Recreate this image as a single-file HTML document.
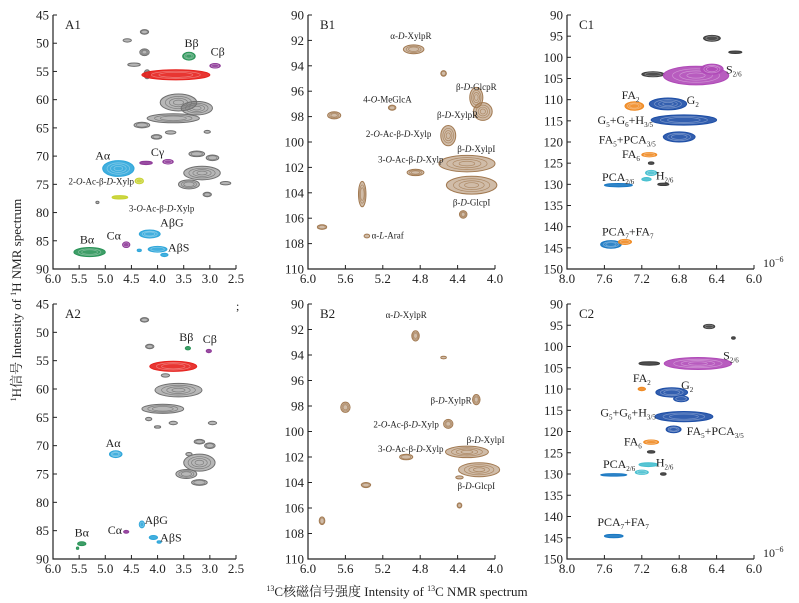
<!DOCTYPE html>
<html><head><meta charset="utf-8">
<style>
html,body{margin:0;padding:0;background:#fff;}
svg{display:block;font-family:"Liberation Serif","Noto Serif CJK SC",serif;}
</style></head>
<body>
<svg id="fig" width="799" height="603" viewBox="0 0 799 603" xmlns="http://www.w3.org/2000/svg">
<text x="397" y="596" font-size="13" text-anchor="middle" fill="#222"><tspan font-size="8" dy="-5">13</tspan><tspan dy="5">C核磁信号强度 Intensity of </tspan><tspan font-size="8" dy="-5">13</tspan><tspan dy="5">C NMR spectrum</tspan></text>
<text transform="translate(21,300) rotate(-90)" font-size="13" text-anchor="middle" fill="#222"><tspan font-size="8" dy="-5">1</tspan><tspan dy="5">H信号  Intensity of </tspan><tspan font-size="8" dy="-5">1</tspan><tspan dy="5">H NMR spectrum</tspan></text>
<text x="236" y="310" font-size="12" fill="#222">;</text>
</svg>
<script>
// ---- tick label arrays ----
const ticksAx = [6.0,5.5,5.0,4.5,4.0,3.5,3.0,2.5];
const ticksAy = [45,50,55,60,65,70,75,80,85,90];
const ticksBx = [6.0,5.6,5.2,4.8,4.4,4.0];
const ticksBy = [90,92,94,96,98,100,102,104,106,108,110];
const ticksCx = [8.0,7.6,7.2,6.8,6.4,6.0];
const ticksCy = [90,95,100,105,110,115,120,125,130,135,140,145,150];

// ---- peak data: [x ppm, y ppm, half-width x, half-width y, colour key] ----
const peaksA1 = [
 [4.25,48,0.08,0.4,'g'],[4.58,49.5,0.08,0.3,'g'],[4.25,51.6,0.09,0.6,'g'],[4.45,53.8,0.12,0.3,'g'],[4.2,55.5,0.06,0.8,'g'],
 [3.65,55.6,0.65,0.9,'r'],[3.4,52.3,0.12,0.7,'gr'],[2.9,54.0,0.1,0.4,'p'],
 [3.6,60.5,0.35,1.5,'g'],[3.7,63.3,0.5,0.8,'g'],[3.25,61.5,0.3,1.2,'g'],[4.3,64.5,0.15,0.5,'g'],
 [3.75,65.8,0.1,0.3,'g'],[4.02,66.6,0.1,0.4,'g'],[3.05,65.7,0.06,0.25,'g'],
 [4.75,72.2,0.3,1.4,'c'],[4.22,71.2,0.12,0.3,'p'],[3.8,71.0,0.1,0.4,'p'],
 [3.25,69.6,0.15,0.5,'g'],[2.95,70.3,0.12,0.5,'g'],[3.15,73.0,0.35,1.2,'g'],[3.4,75.0,0.2,0.8,'g'],[2.7,74.8,0.1,0.3,'g'],[3.05,76.8,0.08,0.4,'g'],[5.15,78.2,0.03,0.2,'g'],
 [4.35,74.4,0.08,0.5,'y'],[4.72,77.3,0.15,0.3,'y'],
 [4.15,83.8,0.2,0.7,'c'],[4.0,86.5,0.18,0.5,'c'],[3.87,87.5,0.07,0.3,'c'],[4.35,86.7,0.04,0.15,'c'],
 [4.6,85.7,0.07,0.5,'p'],[5.3,87.0,0.3,0.8,'gr']
];
const peaksA2 = [
 [4.25,47.8,0.08,0.4,'g'],[4.15,52.5,0.08,0.4,'g'],[3.42,52.8,0.05,0.3,'gr'],[3.02,53.3,0.05,0.3,'p'],
 [3.7,56.0,0.45,0.9,'r'],[3.85,57.6,0.08,0.3,'g'],
 [3.6,60.2,0.45,1.2,'g'],[3.9,63.5,0.4,0.8,'g'],[4.17,65.3,0.06,0.3,'g'],[3.7,66.0,0.08,0.3,'g'],[4.0,66.7,0.06,0.2,'g'],[2.95,66.0,0.08,0.3,'g'],
 [4.8,71.5,0.12,0.6,'c'],
 [3.2,69.3,0.1,0.4,'g'],[3.0,70.0,0.1,0.5,'g'],[3.2,73.0,0.3,1.5,'g'],[3.45,75.0,0.2,0.8,'g'],[3.2,76.5,0.15,0.5,'g'],[3.4,71.5,0.06,0.3,'g'],
 [4.3,83.9,0.05,0.6,'c'],[4.6,85.2,0.05,0.25,'p'],[4.08,86.2,0.08,0.35,'c'],[3.97,87.0,0.04,0.15,'c'],
 [5.45,87.3,0.08,0.35,'gr'],[5.53,88.1,0.02,0.2,'gr']
];
const peaksB1 = [
 [4.87,92.7,0.11,0.35,'b'],[4.55,94.6,0.03,0.22,'b'],[4.2,96.5,0.07,0.8,'b'],[4.13,97.6,0.1,0.7,'b'],[5.1,97.3,0.04,0.2,'b'],
 [5.72,97.9,0.07,0.28,'b'],[4.5,99.5,0.08,0.8,'b'],[4.3,101.7,0.3,0.65,'b'],[4.25,103.4,0.27,0.7,'b'],
 [4.85,102.4,0.09,0.25,'b'],[5.42,104.1,0.04,1.0,'b'],[4.34,105.7,0.04,0.3,'b'],[5.85,106.7,0.05,0.18,'b'],[5.37,107.4,0.03,0.15,'b']
];
const peaksB2 = [
 [4.85,92.5,0.04,0.4,'b'],[4.55,94.2,0.03,0.1,'b'],[4.2,97.5,0.04,0.4,'b'],[5.6,98.1,0.05,0.4,'b'],[4.5,99.4,0.05,0.35,'b'],
 [4.3,101.6,0.23,0.45,'b'],[4.17,103.0,0.22,0.55,'b'],[4.95,102.0,0.07,0.22,'b'],[4.38,103.6,0.04,0.12,'b'],
 [5.38,104.2,0.05,0.2,'b'],[4.38,105.8,0.025,0.2,'b'],[5.85,107.0,0.03,0.3,'b']
];
const peaksC1 = [
 [6.45,95.5,0.09,0.7,'k'],[6.2,98.8,0.07,0.25,'k'],[7.08,104.0,0.12,0.6,'k'],
 [6.62,104.3,0.35,2.2,'m'],[6.45,102.8,0.12,1.2,'m'],
 [7.28,111.5,0.1,1.0,'o'],[6.92,111.0,0.2,1.4,'bl'],[6.75,114.8,0.35,1.2,'bl'],[6.8,118.8,0.17,1.2,'bl'],
 [7.12,123.0,0.08,0.5,'o'],[7.1,125.0,0.03,0.3,'k'],[7.1,127.3,0.06,0.6,'lc'],[7.15,128.8,0.05,0.4,'lc'],[6.97,130.0,0.06,0.25,'k'],
 [7.45,130.2,0.15,0.4,'pb'],[7.53,144.2,0.11,0.9,'pb'],[7.38,143.6,0.07,0.6,'o']
];
const peaksC2 = [
 [6.48,95.3,0.06,0.5,'k'],[6.22,98.0,0.02,0.15,'k'],[7.12,104.0,0.11,0.4,'k'],
 [6.6,104.0,0.36,1.4,'m'],
 [7.2,110.0,0.04,0.4,'o'],[6.88,110.8,0.17,1.1,'bl'],[6.78,112.3,0.08,0.7,'bl'],[6.75,116.5,0.31,1.2,'bl'],[6.86,119.5,0.08,0.8,'bl'],
 [7.1,122.5,0.08,0.5,'o'],[7.1,124.8,0.04,0.3,'k'],[7.13,127.8,0.1,0.45,'lc'],[7.2,129.6,0.07,0.5,'lc'],[6.97,130.0,0.03,0.2,'k'],
 [7.5,130.2,0.14,0.3,'pb'],[7.5,144.6,0.1,0.4,'pb']
];

// ---- annotation labels: [x ppm, y ppm, text, anchor] ----
const I=s=>'<tspan font-style="italic">'+s+'</tspan>';
const labelsA1 = [[3.35,50.7,'Bβ','middle'],[2.85,52.2,'Cβ','middle'],[5.05,70.6,'Aα','middle'],[4.0,70.0,'Cγ','middle'],
 [4.45,75.0,'2-'+I('O')+'-Ac-β-'+I('D')+'-Xylp','end'],[4.55,79.8,'3-'+I('O')+'-Ac-β-'+I('D')+'-Xylp','start'],
 [3.95,82.5,'AβG','start'],[4.7,84.8,'Cα','end'],[3.8,86.9,'AβS','start'],[5.35,85.5,'Bα','middle']];
const labelsA2 = [[3.45,51.5,'Bβ','middle'],[3.0,51.9,'Cβ','middle'],[4.85,70.2,'Aα','middle'],
 [4.25,83.8,'AβG','start'],[4.68,85.6,'Cα','end'],[3.95,86.9,'AβS','start'],[5.45,86.0,'Bα','middle']];
const labelsB1 = [[4.9,91.9,'α-'+I('D')+'-XylpR','middle'],[4.2,95.9,'β-'+I('D')+'-GlcpR','middle'],[5.15,96.9,'4-'+I('O')+'-MeGlcA','middle'],
 [4.4,98.1,'β-'+I('D')+'-XylpR','middle'],[4.68,99.6,'2-'+I('O')+'-Ac-β-'+I('D')+'-Xylp','end'],[4.2,100.8,'β-'+I('D')+'-XylpI','middle'],
 [4.55,101.6,'3-'+I('O')+'-Ac-β-'+I('D')+'-Xylp','end'],[4.25,105.0,'β-'+I('D')+'-GlcpI','middle'],[5.32,107.6,'α-'+I('L')+'-Araf','start']];
const labelsB2 = [[4.95,91.1,'α-'+I('D')+'-XylpR','middle'],[4.25,97.8,'β-'+I('D')+'-XylpR','end'],[4.6,99.7,'2-'+I('O')+'-Ac-β-'+I('D')+'-Xylp','end'],
 [4.1,100.9,'β-'+I('D')+'-XylpI','middle'],[4.55,101.6,'3-'+I('O')+'-Ac-β-'+I('D')+'-Xylp','end'],[4.2,104.5,'β-'+I('D')+'-GlcpI','middle']];
const SB=s=>'<tspan font-size="7" dy="3">'+s+'</tspan>';
const labelsC1 = [[6.3,103.8,'S'+SB('2/6'),'start'],[7.32,109.8,'FA'+SB('2'),'middle'],
 [6.72,111.0,'G'+SB('2'),'start'],[7.08,115.8,'G'+SB('5')+'<tspan dy="-3">+G</tspan>'+SB('6')+'<tspan dy="-3">+H</tspan>'+SB('3/5'),'end'],
 [7.05,120.3,'FA'+SB('5')+'<tspan dy="-3">+PCA</tspan>'+SB('3/5'),'end'],[7.22,123.8,'FA'+SB('6'),'end'],
 [7.28,129.2,'PCA'+SB('2/6'),'end'],[7.05,128.8,'H'+SB('2/6'),'start'],
 [7.35,142.1,'PCA'+SB('7')+'<tspan dy="-3">+FA</tspan>'+SB('7'),'middle']];
const labelsC2 = [[6.33,103.0,'S'+SB('2/6'),'start'],[7.2,108.3,'FA'+SB('2'),'middle'],
 [6.78,110.0,'G'+SB('2'),'start'],[7.05,116.5,'G'+SB('5')+'<tspan dy="-3">+G</tspan>'+SB('6')+'<tspan dy="-3">+H</tspan>'+SB('3/5'),'end'],
 [6.72,120.8,'FA'+SB('5')+'<tspan dy="-3">+PCA</tspan>'+SB('3/5'),'start'],[7.2,123.3,'FA'+SB('6'),'end'],
 [7.27,128.6,'PCA'+SB('2/6'),'end'],[7.05,128.2,'H'+SB('2/6'),'start'],
 [7.4,142.2,'PCA'+SB('7')+'<tspan dy="-3">+FA</tspan>'+SB('7'),'middle']];

const COL = {g:'#6f6f6f',r:'#e6201c',gr:'#2a9458',p:'#8e3a98',c:'#2ea6da',y:'#c6d22e',b:'#a27a52',k:'#3c3c3c',m:'#b04ab8',o:'#f08a22',bl:'#1d4ea6',lc:'#46bfcf',pb:'#1a78c2'};
const NS='http://www.w3.org/2000/svg';
const svg=document.getElementById('fig');

function mk(tag,attrs,parent){const e=document.createElementNS(NS,tag);for(const k in attrs)e.setAttribute(k,attrs[k]);(parent||svg).appendChild(e);return e;}

function panel(id,name,xt,yt,x0,x1,y0,y1,peaks,labels,exp,lblSize){
  const g=mk('g',{});
  
  
  const xv0=xt[0],xv1=xt[xt.length-1],yv0=yt[0],yv1=yt[yt.length-1];
  const sx=v=>x0+(v-xv0)/(xv1-xv0)*(x1-x0);
  const sy=v=>y0+(v-yv0)/(yv1-yv0)*(y1-y0);
  peaks.forEach(pk=>{
    const c=COL[pk[4]];
    const light=(pk[4]==='g'||pk[4]==='b');
    const cx=sx(pk[0]),cy=sy(pk[1]);
    const rx=Math.max(1.2,Math.abs(sx(pk[0]+pk[2])-cx)),ry=Math.max(1.2,Math.abs(sy(pk[1]+pk[3])-cy));
    const pg=mk('g',{},g);
    
    
    mk('ellipse',{cx:cx,cy:cy,rx:rx,ry:ry,fill:c,'fill-opacity':light?0.5:0.9,stroke:c,'stroke-width':1},pg);
    [0.72,0.5,0.28].forEach(f=>{ if(rx*f>1.5&&ry*f>1.5) mk('ellipse',{cx:cx,cy:cy,rx:rx*f,ry:ry*f,fill:'none',stroke:light?c:'#ffffff','stroke-opacity':light?0.8:0.35,'stroke-width':0.7},pg);});
  });
  labels.forEach(l=>{
    const t=mk('text',{x:sx(+l[0]),y:sy(l[1]),'text-anchor':l[3],'font-size':(l[2].indexOf('italic')>=0)?9:lblSize,fill:'#222'},g);
    t.innerHTML=l[2];
    
    
  });
  const ax=mk('path',{d:`M${x0} ${y0}V${y1}H${x1}`,stroke:'#222','stroke-width':1.2,fill:'none'},g);
  
  
  xt.forEach(v=>{
    const x=sx(v);
    mk('line',{x1:x,x2:x,y1:y1,y2:y1-4,stroke:'#222'},g);
    const t=mk('text',{x:x,y:y1+14,'text-anchor':'middle','font-size':13,fill:'#222'},g);
    t.textContent=v.toFixed(1);
    
    
  });
  yt.forEach(v=>{
    const y=sy(v);
    mk('line',{x1:x0,x2:x0+4,y1:y,y2:y,stroke:'#222'},g);
    const t=mk('text',{x:x0-4,y:y+4.5,'text-anchor':'end','font-size':13,fill:'#222'},g);
    t.textContent=String(v);
    
    
  });
  const pt=mk('text',{x:x0+12,y:y0+14,'font-size':13,fill:'#222'},g);
  pt.textContent=name;
  
  
  if(exp){
    const e=mk('text',{x:x1+9,y:y1-2,'font-size':12,fill:'#222'},g);
    e.innerHTML='10<tspan font-size="8" dy="-5">−6</tspan>';
    
    
  }
}
panel('a1','A1',ticksAx,ticksAy,53,236,15,269,peaksA1,labelsA1,false,12);
panel('a2','A2',ticksAx,ticksAy,53,236,304,559,peaksA2,labelsA2,false,12);
panel('b1','B1',ticksBx,ticksBy,308,495,15,269,peaksB1,labelsB1,false,9);
panel('b2','B2',ticksBx,ticksBy,308,495,304,559,peaksB2,labelsB2,false,9);
panel('c1','C1',ticksCx,ticksCy,567,754,15,269,peaksC1,labelsC1,true,12);
panel('c2','C2',ticksCx,ticksCy,567,754,304,559,peaksC2,labelsC2,true,12);
</script>
</body></html>
